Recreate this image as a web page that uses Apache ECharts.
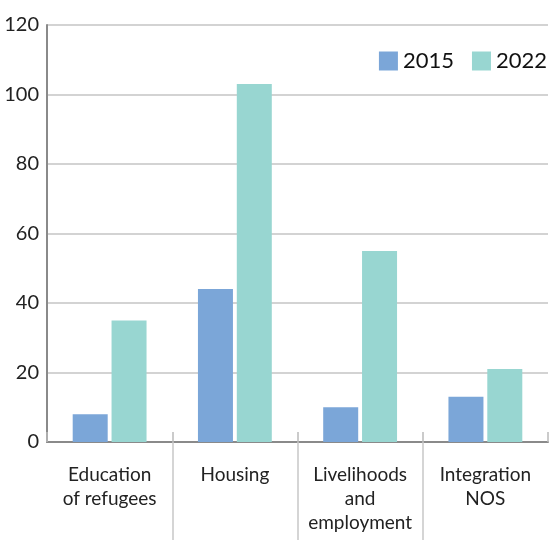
<!DOCTYPE html>
<html>
<head>
<meta charset="utf-8">
<script src="https://cdn.jsdelivr.net/npm/echarts@6/dist/echarts.min.js"></script>
<style>
  html, body { margin: 0; padding: 0; background: #fff; }
  #chart { width: 555px; height: 540px; }
</style>
</head>
<body>
<div id="chart"></div>
<script>
// 数据
var categories = ['Education\nof refugees', 'Housing', 'Livelihoods\nand\nemployment', 'Integration\nNOS']
var values2015 = [8, 44, 10, 13]
var values2022 = [35, 103, 55, 21]
var yTicks = { min: 0, max: 120, interval: 20 }
var separators = [1, 2, 3]

var chart = echarts.init(document.getElementById('chart'))
var font = 'Lato, "Open Sans", sans-serif'

chart.setOption({
    animation: false,
    textStyle: { fontFamily: font },
    legend: {
        top: 45,
        right: 3,
        icon: 'rect',
        itemWidth: 19,
        itemHeight: 19,
        itemGap: 18,
        textStyle: { fontSize: 22, color: '#111', fontFamily: font },
        data: ['2015', '2022']
    },
    grid: { left: 47, right: 7, top: 25, bottom: 98 },
    xAxis: [{
        type: 'category',
        data: categories,
        position: 'bottom',
        axisLine: { lineStyle: { color: '#8a8a8a', width: 2 } },
        axisTick: { show: true, inside: true, length: 10, lineStyle: { color: '#bbb', width: 1.5 } },
        axisLabel: {
            interval: 0,
            margin: 21,
            verticalAlign: 'top',
            fontSize: 19,
            lineHeight: 24,
            color: '#222',
            fontFamily: font
        }
    }, {
        // 分隔线
        type: 'value',
        position: 'bottom',
        min: 0,
        max: categories.length,
        axisLine: { show: false },
        axisLabel: { show: false },
        splitLine: { show: false },
        axisTick: {
            show: true,
            customValues: separators,
            length: 100,
            lineStyle: { color: '#c8c8c8', width: 1.5 }
        }
    }],
    yAxis: {
        type: 'value',
        min: yTicks.min,
        max: yTicks.max,
        interval: yTicks.interval,
        axisLine: { show: true, lineStyle: { color: '#8a8a8a', width: 2 } },
        axisTick: { show: false },
        axisLabel: { fontSize: 20, color: '#222', margin: 8, fontFamily: font },
        splitLine: { lineStyle: { color: '#c4c4c4', width: 1.5 } }
    },
    series: [{
        name: '2015',
        type: 'bar',
        xAxisIndex: 0,
        data: values2015,
        barWidth: 35,
        barGap: '11%',
        itemStyle: { color: '#7ba6d8' }
    }, {
        name: '2022',
        type: 'bar',
        xAxisIndex: 0,
        data: values2022,
        barWidth: 35,
        barGap: '11%',
        itemStyle: { color: '#98d6d1' }
    }]
})
</script>
</body>
</html>
